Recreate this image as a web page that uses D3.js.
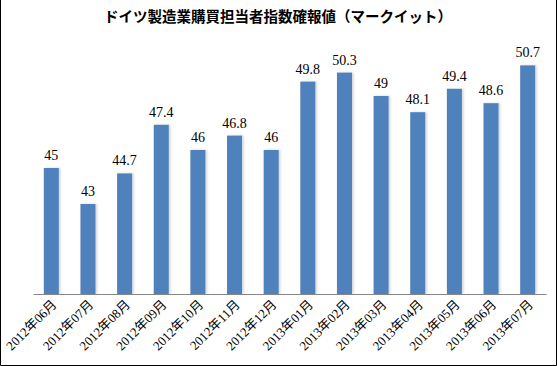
<!DOCTYPE html>
<html><head><meta charset="utf-8">
<script src="https://cdn.jsdelivr.net/npm/d3@7"></script>
<style>body{margin:0;background:#fff}svg{display:block}</style>
</head><body>
<script>
const categories = ["2012年06月","2012年07月","2012年08月","2012年09月","2012年10月","2012年11月","2012年12月","2013年01月","2013年02月","2013年03月","2013年04月","2013年05月","2013年06月","2013年07月"];
const values = [45, 43, 44.7, 47.4, 46, 46.8, 46, 49.8, 50.3, 49, 48.1, 49.4, 48.6, 50.7];
const valueLabels = ["45","43","44.7","47.4","46","46.8","46","49.8","50.3","49","48.1","49.4","48.6","50.7"];
const title = "ドイツ製造業購買担当者指数確報値（マークイット）";

const W = 557, H = 366;
const svg = d3.select("body").append("svg").attr("width", W).attr("height", H);
const serif = "'Liberation Serif','DejaVu Serif','Noto Sans CJK JP',serif";

const x = d3.scaleBand().domain(categories).range([33, 546]).paddingInner(0.59).paddingOuter(0.295);
const y = d3.scaleLinear().domain([38, 52]).range([294, 42]);

const defs = svg.append("defs");
const f = defs.append("filter").attr("id","sh").attr("x","-20%").attr("y","-5%").attr("width","150%").attr("height","110%");
f.append("feDropShadow").attr("dx",1.5).attr("dy",0).attr("stdDeviation",1).attr("flood-color","#000").attr("flood-opacity",0.18);

svg.append("text").attr("x", 278).attr("y", 22).attr("text-anchor","middle")
  .attr("font-family","'Noto Sans CJK JP',sans-serif").attr("font-weight","bold")
  .attr("font-size", 14.5).attr("fill","#000").text(title);

svg.append("g").selectAll("rect").data(values).join("rect")
  .attr("x", (d,i) => x(categories[i]))
  .attr("width", x.bandwidth())
  .attr("y", d => y(d))
  .attr("height", d => y(38) - y(d))
  .attr("fill", "#4F81BD")
  .attr("filter","url(#sh)");

svg.append("g").selectAll("text").data(values).join("text")
  .attr("x", (d,i) => x(categories[i]) + x.bandwidth()/2)
  .attr("y", d => y(d) - 8)
  .attr("text-anchor","middle")
  .attr("font-family", serif).attr("font-size", 14).attr("fill","#000")
  .text((d,i) => valueLabels[i]);

const ax = svg.append("g").attr("transform","translate(0,294)")
  .call(d3.axisBottom(x).tickSize(0).tickPadding(0));
ax.select(".domain").attr("stroke","#868686");
ax.selectAll(".tick text")
  .attr("font-family", serif).attr("font-size", 13).attr("fill","#000")
  .attr("text-anchor","end")
  .attr("transform","translate(3,8) rotate(-45)")
  .attr("dy","0.35em");

svg.append("path").attr("d", `M0.5,0 V${H-0.5} H${W-0.5} V0`).attr("fill","none").attr("stroke","#000").attr("stroke-width",1);
</script>
</body></html>
